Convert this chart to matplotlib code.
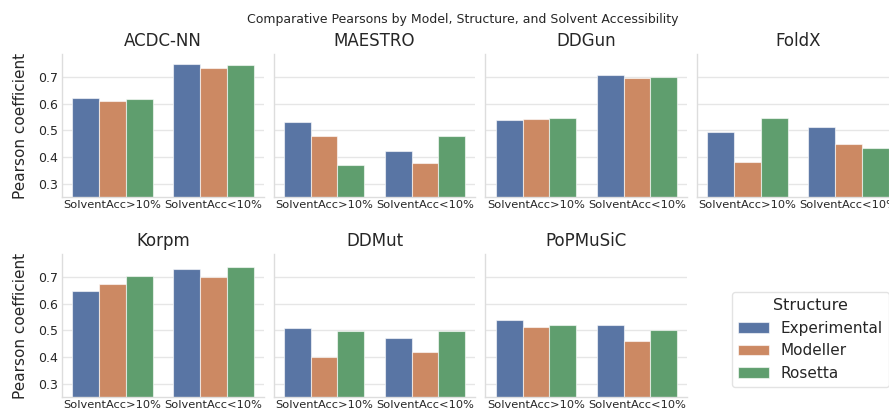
import matplotlib
matplotlib.use("Agg")
import matplotlib.pyplot as plt
import seaborn as sns
import numpy as np

sns.set_theme(style="whitegrid")
plt.rcParams['font.family'] = ['DejaVu Sans']

models = ["ACDC-NN", "MAESTRO", "DDGun", "FoldX", "Korpm", "DDMut", "PoPMuSiC"]
solvent_groups = ["SolventAcc>10%", "SolventAcc<10%"]
structures = ["Experimental", "Modeller", "Rosetta"]

# Pearson coefficient per model: [structure][solvent group]
experimental = {
    "ACDC-NN": [0.620, 0.747], "MAESTRO": [0.530, 0.424], "DDGun": [0.540, 0.706],
    "FoldX": [0.495, 0.514], "Korpm": [0.649, 0.729], "DDMut": [0.510, 0.471],
    "PoPMuSiC": [0.539, 0.520],
}
modeller = {
    "ACDC-NN": [0.611, 0.735], "MAESTRO": [0.479, 0.378], "DDGun": [0.542, 0.695],
    "FoldX": [0.380, 0.449], "Korpm": [0.675, 0.699], "DDMut": [0.401, 0.420],
    "PoPMuSiC": [0.512, 0.461],
}
rosetta = {
    "ACDC-NN": [0.616, 0.744], "MAESTRO": [0.370, 0.479], "DDGun": [0.547, 0.700],
    "FoldX": [0.546, 0.435], "Korpm": [0.705, 0.736], "DDMut": [0.499, 0.496],
    "PoPMuSiC": [0.520, 0.502],
}
series = [experimental, modeller, rosetta]

palette = [sns.desaturate(c, 0.75) for c in sns.color_palette("deep", 3)]

W, H = 889, 412
fig = plt.figure(figsize=(W / 100, H / 100), dpi=100)

col_left = [62, 273.5, 485.5, 697]
ax_w = 202
row_top = [54, 254]
ax_h = 143

axes = []
for i, model in enumerate(models):
    r, c = divmod(i, 4)
    ax = fig.add_axes([col_left[c] / W, 1 - (row_top[r] + ax_h) / H, ax_w / W, ax_h / H])
    axes.append(ax)
    x = np.arange(len(solvent_groups))
    bw = 0.8 / 3
    for k, (name, data) in enumerate(zip(structures, series)):
        ax.bar(x - 0.4 + bw * (k + 0.5), data[model], width=bw, color=palette[k],
               edgecolor=(1, 1, 1, 0.6), linewidth=0.8, label=name, zorder=2)
    ax.set_xlim(-0.5, 1.5)
    ax.set_ylim(0.25, 0.786)
    ax.set_yticks([0.3, 0.4, 0.5, 0.6, 0.7])
    ax.set_xticks(x)
    ax.set_xticklabels(solvent_groups, fontsize=8.2, color="#262626")
    ax.tick_params(axis="x", pad=2, length=0)
    ax.tick_params(axis="y", labelsize=9, pad=3, length=0, labelcolor="#262626")
    ax.grid(axis="x", visible=False)
    ax.grid(axis="y", color="#e6e6e6", linewidth=1)
    ax.set_axisbelow(True)
    for s in ("top", "right"):
        ax.spines[s].set_visible(False)
    for s in ("left", "bottom"):
        ax.spines[s].set_color("#dddddd")
        ax.spines[s].set_linewidth(1)
    ax.set_title(model, fontsize=12, color="#262626", pad=6)
    if c == 0:
        ax.set_ylabel("Pearson coefficient", fontsize=11, color="#262626", labelpad=7)
    else:
        ax.set_yticklabels([])

fig.text(463 / W, 1 - 20 / H, "Comparative Pearsons by Model, Structure, and Solvent Accessibility",
         ha="center", va="center", fontsize=9, color="#262626")

handles, labels = axes[0].get_legend_handles_labels()
leg = fig.legend(handles, labels, title="Structure", loc="upper left",
                 bbox_to_anchor=(732 / W, 1 - 292 / H), borderaxespad=0,
                 fontsize=11, title_fontsize=11.5,
                 frameon=True, handlelength=2.0, handleheight=0.7, borderpad=0.4,
                 labelspacing=0.5)
leg.get_frame().set_edgecolor("#dddddd")

fig.savefig("out.png", dpi=100)
